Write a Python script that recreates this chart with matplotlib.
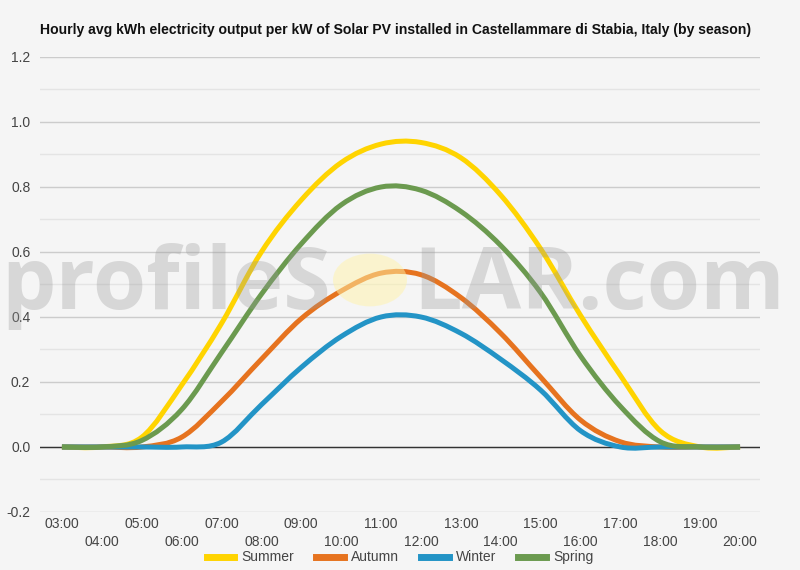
import matplotlib
matplotlib.use("Agg")
import matplotlib.pyplot as plt
from matplotlib.path import Path
from matplotlib.patches import PathPatch, Circle
from matplotlib.lines import Line2D

plt.rcParams['font.family'] = ['Liberation Sans', 'DejaVu Sans']

hours = list(range(3, 21))
hour_labels = [f"{h:02d}:00" for h in hours]
summer = [0, 0, 0.03, 0.19, 0.38, 0.60, 0.76, 0.875, 0.932, 0.937, 0.89, 0.775, 0.61, 0.405, 0.22, 0.05, 0, 0]
autumn = [0, 0, 0, 0.03, 0.14, 0.27, 0.395, 0.48, 0.535, 0.53, 0.46, 0.35, 0.215, 0.083, 0.016, 0, 0, 0]
winter = [0, 0, 0, 0, 0.015, 0.13, 0.245, 0.34, 0.40, 0.40, 0.35, 0.27, 0.175, 0.05, 0, 0, 0, 0]
spring = [0, 0, 0.02, 0.115, 0.29, 0.47, 0.625, 0.745, 0.80, 0.79, 0.725, 0.62, 0.475, 0.28, 0.125, 0.016, 0, 0]
series_names = ["Summer", "Autumn", "Winter", "Spring"]
series_values = [summer, autumn, winter, spring]
series_colors = ["#FFD400", "#E6731F", "#2394C6", "#6B9A4F"]

title = "Hourly avg kWh electricity output per kW of Solar PV installed in Castellammare di Stabia, Italy (by season)"

BG = "#F5F5F5"
fig = plt.figure(figsize=(8, 5.7), dpi=100, facecolor=BG)
ax = fig.add_axes([0.05, 0.1018, 0.90, 0.7982])
ax.set_facecolor(BG)


def smooth_path(xs, ys):
    n = len(xs)
    verts = [(xs[0], ys[0])]
    codes = [Path.MOVETO]
    for i in range(n - 1):
        x0, y0 = (xs[i - 1], ys[i - 1]) if i > 0 else (xs[i], ys[i])
        x1, y1 = xs[i], ys[i]
        x2, y2 = xs[i + 1], ys[i + 1]
        x3, y3 = (xs[i + 2], ys[i + 2]) if i + 2 < n else (xs[i + 1], ys[i + 1])
        c1 = (x1 + (x2 - x0) / 6.0, y1 + (y2 - y0) / 6.0)
        c2 = (x2 - (x3 - x1) / 6.0, y2 - (y3 - y1) / 6.0)
        verts += [c1, c2, (x2, y2)]
        codes += [Path.CURVE4, Path.CURVE4, Path.CURVE4]
    return Path(verts, codes)


for name, vals, col in zip(series_names, series_values, series_colors):
    p = PathPatch(smooth_path(hours, vals), fill=False, edgecolor=col, lw=3.6,
                  capstyle='butt', joinstyle='round', zorder=3)
    ax.add_patch(p)

ax.set_xlim(2.45, 20.5)
ax.set_ylim(-0.2, 1.2)
yt = [-0.2, 0.0, 0.2, 0.4, 0.6, 0.8, 1.0, 1.2]
ax.set_yticks(yt)
ax.set_yticks([-0.1, 0.1, 0.3, 0.5, 0.7, 0.9, 1.1], minor=True)
ax.set_yticklabels([f"{v:.1f}" for v in yt])
ax.grid(True, which='major', axis='y', color='#CCCCCC', lw=1)
ax.grid(True, which='minor', axis='y', color='#E4E4E4', lw=1)
ax.axhline(0, color='#333333', lw=1, zorder=2)
ax.set_xticks(hours)
ax.set_xticklabels([lab if i % 2 == 0 else "\n" + lab for i, lab in enumerate(hour_labels)],
                   linespacing=1.35)
ax.tick_params(axis='both', which='both', length=0, labelsize=10, labelcolor='#444444')
ax.tick_params(axis='x', pad=3.5)
ax.tick_params(axis='y', pad=7)
for s in ax.spines.values():
    s.set_visible(False)
ax.set_axisbelow(True)

fig.text(0.05, 0.948, title, fontsize=10.1, fontweight='bold', color='#111111',
         ha='left', va='center')

handles = [Line2D([0], [0], color=c, lw=5) for c in series_colors]
fig.legend(handles, series_names, loc='center', bbox_to_anchor=(0.5, 0.022), ncol=4,
           frameon=False, fontsize=10, handlelength=2.0, columnspacing=1.6,
           handletextpad=0.5, labelcolor='#444444')

# watermark
wm_kw = dict(fontsize=62, fontweight='bold', color='#999999', alpha=0.32,
             va='baseline', family=['Open Sans', 'DejaVu Sans'], zorder=10)
fig.text(331 / 800, 1 - 309 / 570, "profileS", ha='right', **wm_kw)
fig.text(413 / 800, 1 - 309 / 570, "LAR.com", ha='left', **wm_kw)
fig.patches.append(Circle((370 / 800, 1 - 280 / 570), 37 / 800, transform=fig.transFigure,
                          facecolor='#FFF3A8', edgecolor='none', alpha=0.5, zorder=11))

fig.savefig("out.png", dpi=100, facecolor=BG)
